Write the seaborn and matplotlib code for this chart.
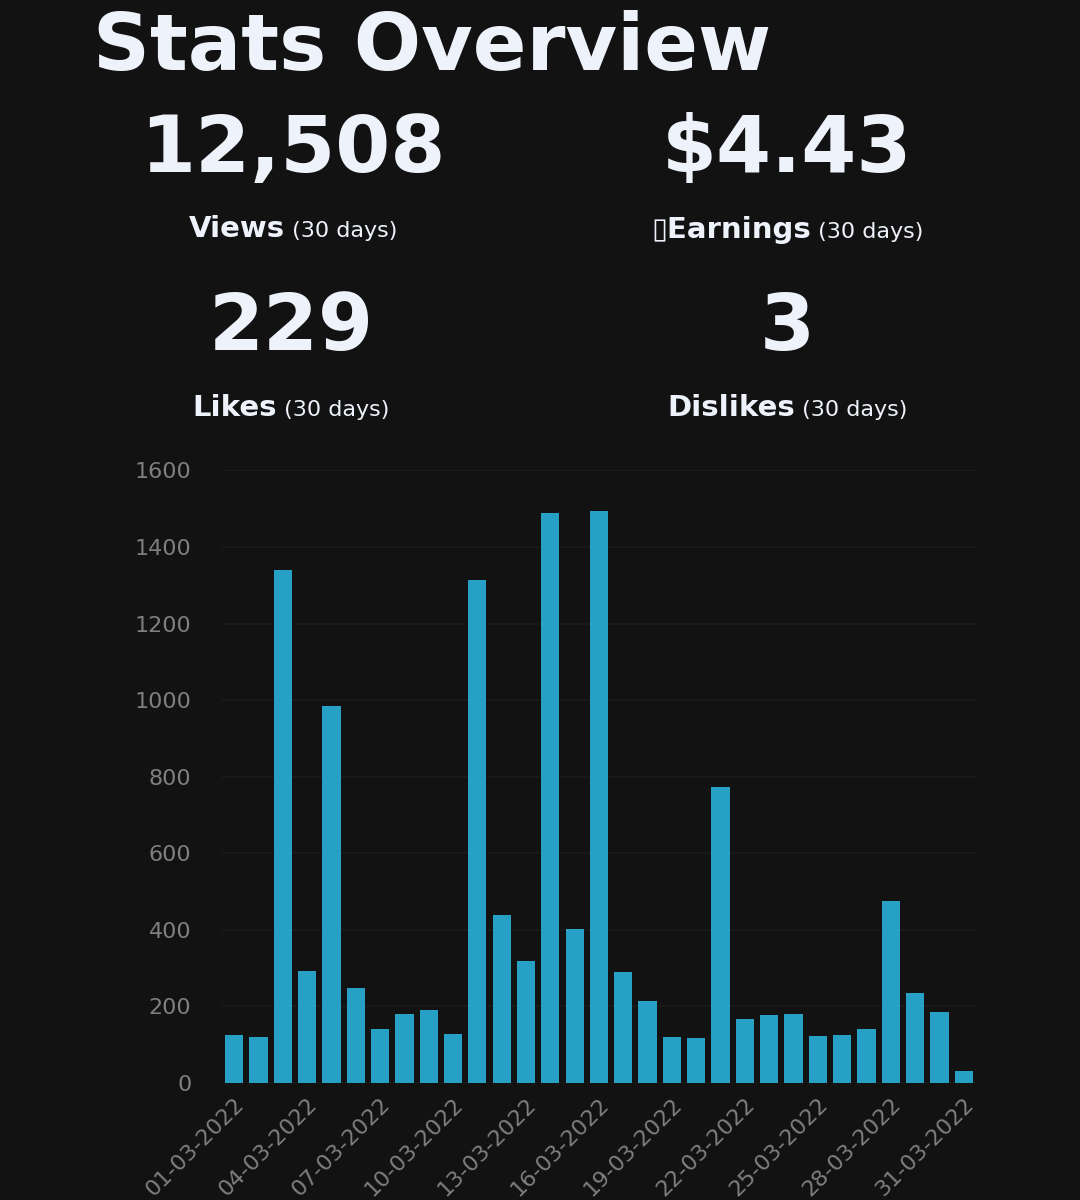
import matplotlib
matplotlib.use("Agg")
import matplotlib.pyplot as plt
import seaborn as sns
import pandas as pd

# ---- data ----
dates = [f"{d:02d}-03-2022" for d in range(1, 32)]
views = [125, 120, 1339, 292, 984, 248, 141, 180, 190, 128,
         1315, 438, 318, 1488, 402, 1493, 290, 214, 120, 117,
         773, 167, 177, 180, 122, 125, 141, 475, 235, 185, 31]
tick_every = 3
y_ticks = [0, 200, 400, 600, 800, 1000, 1200, 1400, 1600]

title = "Stats Overview"
stat_values = ["12,508", "$4.43", "229", "3"]
stat_names = ["Views", "\u25afEarnings", "Likes", "Dislikes"]
stat_period = "(30 days)"

BG = "#121212"
FG = "#eef2fa"
BAR = "#26a0c4"
TICK = "#7f7f7f"
GRID = "#1b1b1b"

sns.set_theme(style="dark")
plt.rcParams["font.family"] = ["DejaVu Sans"]

fig = plt.figure(figsize=(10.8, 12), dpi=100, facecolor=BG)
ax = fig.add_axes([0.2056, 0.0975, 0.698, 0.5105])
ax.set_facecolor(BG)

df = pd.DataFrame({"date": dates, "views": views})
sns.barplot(data=df, x="date", y="views", color=BAR, saturation=1,
            width=0.75, ax=ax, zorder=3, linewidth=0, edgecolor=BAR)

ax.set_ylim(0, 1600)
ax.set_yticks(y_ticks)
ax.set_xlim(-0.5, len(dates) - 0.5)
idx = list(range(0, len(dates), tick_every))
ax.set_xticks(idx)
ax.set_xticklabels([dates[i] for i in idx], rotation=45, ha="right",
                   rotation_mode="anchor")
ax.tick_params(axis="both", length=0, colors=TICK, labelsize=16)
ax.tick_params(axis="y", pad=22)
ax.tick_params(axis="x", pad=8)
ax.set_xlabel("")
ax.set_ylabel("")
ax.grid(axis="y", color=GRID, linewidth=1.2, zorder=0)
ax.grid(axis="x", visible=False)
for s in ax.spines.values():
    s.set_visible(False)

# ---- header texts ----
H = 1200.0
W = 1080.0
fig.text(93 / W, 1 - 70 / H, title, color=FG, fontsize=57, fontweight="bold",
         ha="left", va="baseline")

cols = [293, 787, 291, 787]
num_base = [172, 172, 350, 350]
lab_base = [237, 238, 416, 416]

fig.canvas.draw()
renderer = fig.canvas.get_renderer()
for i in range(4):
    fig.text(cols[i] / W, 1 - num_base[i] / H, stat_values[i], color=FG,
             fontsize=57, fontweight="bold", ha="center", va="baseline")
    t1 = fig.text(0, 1 - lab_base[i] / H, stat_names[i], color=FG,
                  fontsize=21, fontweight="bold", ha="left", va="baseline")
    t2 = fig.text(0, 1 - lab_base[i] / H, " " + stat_period, color=FG,
                  fontsize=16, ha="left", va="baseline")
    w1 = t1.get_window_extent(renderer).width
    w2 = t2.get_window_extent(renderer).width
    left = cols[i] - (w1 + w2) / 2
    t1.set_x(left / W)
    t2.set_x((left + w1) / W)

fig.savefig("out.png", dpi=100, facecolor=BG)
